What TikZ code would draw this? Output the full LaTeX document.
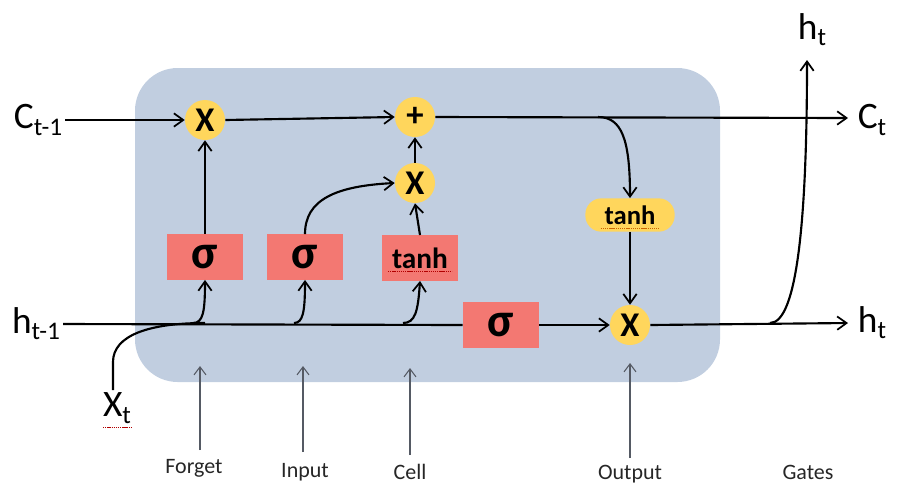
\documentclass[tikz,border=0pt]{standalone}
\usepackage{fontspec}
\setmainfont{Carlito}
\usetikzlibrary{arrows.meta}
\definecolor{cellbg}{RGB}{193,206,224}
\definecolor{gatered}{RGB}{243,120,114}
\definecolor{opyellow}{RGB}{255,214,92}
\definecolor{gatearrow}{RGB}{85,90,100}
\newcommand\lsub[1]{\raisebox{-0.35ex}{\fontsize{19}{19}\selectfont #1}}
\tikzset{
  >={Straight Barb[length=7pt,width=10pt,line width=1.3pt]},
  flow/.style={line width=1.6pt,black},
  circ/.style={circle,fill=opyellow,minimum size=30pt,inner sep=0pt,font=\fontsize{26}{26}\selectfont\bfseries},
  pill/.style={rounded corners=12pt,fill=opyellow,minimum width=67pt,minimum height=25pt,inner sep=0pt,font=\fontsize{20}{20}\selectfont\bfseries},
  gbox/.style={rectangle,fill=gatered,minimum width=57pt,minimum height=34pt,inner sep=0pt,font=\fontsize{36}{36}\selectfont\bfseries},
  tbox/.style={rectangle,fill=gatered,minimum width=57pt,minimum height=34pt,inner sep=0pt,font=\fontsize{22}{22}\selectfont\bfseries},
  iolabel/.style={font=\fontsize{28}{28}\selectfont,inner sep=0pt},
  gatelabel/.style={font=\fontsize{16.5}{16.5}\selectfont,inner sep=0pt,text=black!85},
  gatearr/.style={-{Straight Barb[length=6pt,width=9pt,line width=0.8pt]},line width=0.8pt,gatearrow},
  squig/.style={line width=0.5pt,dash pattern=on 1pt off 0.6pt},
}
\begin{document}
\begin{tikzpicture}[x=0.75pt,y=-0.75pt]
\useasboundingbox (0,0) rectangle (909,487);
% cell background
\fill[cellbg,rounded corners=32pt] (135,68) rectangle (720,382);

% operation nodes
\node[circ] (x1) at (205,120) {X};
\node[circ] (plus) at (415,117) {+};
\node[circ] (x2) at (415,183) {X};
\node[pill] (tanhy) at (630,215) {tanh};
\node[circ] (x3) at (630,325) {X};

% gate boxes
\node[gbox] (s1) at (205,257) {σ};
\node[gbox] (s2) at (305,257) {σ};
\node[tbox] (tb) at (420,258) {tanh};
\node[gbox] (s3) at (501,325) {σ};

% spell-check underlines
\draw[squig,red!70!black] ([xshift=-24pt,yshift=-10pt]tb.center) -- ([xshift=24pt,yshift=-10pt]tb.center);
\draw[squig,orange!80!black] ([xshift=-22pt,yshift=-10pt]tanhy.center) -- ([xshift=22pt,yshift=-10pt]tanhy.center);

% io labels
\node[iolabel] (cin) at (38,120) {C\lsub{t-1}};
\node[iolabel] (hin) at (36,324) {h\lsub{t-1}};
\node[iolabel] (cout) at (872,120) {C\lsub{t}};
\node[iolabel] (hout) at (872,323) {h\lsub{t}};
\node[iolabel] (htop) at (812,30) {h\lsub{t}};
\node[iolabel] (xt) at (117,408) {X\lsub{t}};
\draw[squig,red!70!black] (103,427) -- (131,427);

% coordinates
\coordinate (cend) at (848,118);
\coordinate (hend) at (848,323);
\coordinate (cbr) at (598,117);
\coordinate (hbr) at (770,323);
\coordinate (htopend) at (807,60);
\coordinate (xtbot) at (113,390);
\coordinate (j1) at (193,323);
\coordinate (j2) at (294,323);
\coordinate (j3) at (403,323);

% cell state line
\draw[flow,->] (cin.east) ++(3,0) -- (x1.west);
\draw[flow,->] (x1.east) -- (plus.west);
\draw[flow,->] (plus.east) -- (cend);
\draw[flow,->] (cbr) .. controls (622,117) and (630,140) .. (tanhy.north);
\draw[flow,->] (tanhy.south) -- (x3.north);

% hidden line
\draw[flow] (hin.east) ++(3,0) -- (s3.west);
\draw[flow,->] (s3.east) -- (x3.west);
\draw[flow,->] (x3.east) -- (hend);
\draw[flow,->] (hbr) .. controls (797,323) and (807,220) .. (htopend);

% input x_t
\draw[flow] (xtbot) -- (113,362) .. controls (113,335) and (150,323) .. (205,323);

% branches to gates
\draw[flow,->] (j1) .. controls (203,323) and (205,312) .. (s1.south);
\draw[flow,->] (j2) .. controls (303,323) and (305,312) .. (s2.south);
\draw[flow,->] (j3) .. controls (415,323) and (418,312) .. (tb.south);

\draw[flow,->] (s1.north) -- (x1.south);
\draw[flow,->] (s2.north) .. controls (305,200) and (335,186) .. (x2.west);
\draw[flow,->] (tb.north) -- (x2.south);
\draw[flow,->] (x2.north) -- (plus.south);

% gate labels
\node[gatelabel] (lf) at (194,468) {Forget};
\node[gatelabel] (li) at (305,472) {Input};
\node[gatelabel] (lc) at (410,472) {Cell};
\node[gatelabel] (lo) at (630,474) {Output};
\node[gatelabel] (lg) at (808,472) {Gates};
\coordinate (gf) at (200,366);
\coordinate (gi) at (303,366);
\coordinate (gc) at (410,368);
\coordinate (go) at (630,363);
\draw[gatearr] (200,450) -- (gf);
\draw[gatearr] (303,452) -- (gi);
\draw[gatearr] (410,455) -- (gc);
\draw[gatearr] (630,458) -- (go);
\end{tikzpicture}
\end{document}
